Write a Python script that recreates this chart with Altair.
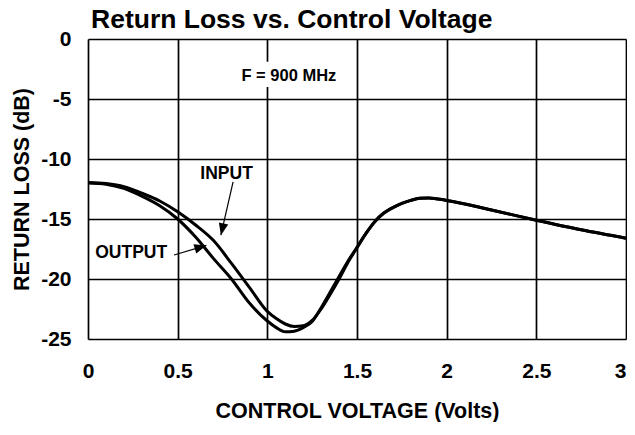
import math
import altair as alt
import pandas as pd

# ---- data ----
volts_output = [0.0, 0.1, 0.2, 0.3, 0.4, 0.5, 0.6, 0.7, 0.8, 0.9, 1.0, 1.05, 1.1, 1.15, 1.2, 1.25,
                1.3, 1.35, 1.4, 1.45, 1.5, 1.55, 1.6, 1.65, 1.7, 1.75, 1.8, 1.85, 1.9, 2.0,
                2.25, 2.5, 2.75, 3.0]
rl_output = [-12.0, -12.1, -12.45, -13.1, -13.9, -15.0, -16.5, -18.3, -20.0, -22.0, -23.5, -24.05,
             -24.4, -24.35, -24.05, -23.55, -22.4, -21.1, -19.8, -18.5, -17.35, -16.2, -15.2,
             -14.5, -14.05, -13.7, -13.45, -13.28, -13.25, -13.45, -14.25, -15.1, -15.9, -16.6]

volts_input = [0.0, 0.1, 0.2, 0.3, 0.4, 0.5, 0.6, 0.7, 0.8, 0.9, 1.0, 1.05, 1.1, 1.15, 1.2, 1.25,
               1.3, 1.35, 1.4, 1.45, 1.5, 1.55, 1.6, 1.65, 1.7, 1.75, 1.8, 1.85, 1.9, 2.0,
               2.25, 2.5, 2.75, 3.0]
rl_input = [-11.95, -12.05, -12.3, -12.85, -13.5, -14.4, -15.5, -16.8, -18.7, -20.7, -22.7, -23.3,
            -23.75, -23.95, -23.9, -23.45, -22.5, -21.3, -20.0, -18.6, -17.4, -16.2, -15.2,
            -14.5, -14.05, -13.7, -13.45, -13.28, -13.25, -13.45, -14.25, -15.1, -15.9, -16.6]

x_ticks = [0, 0.5, 1, 1.5, 2, 2.5, 3]
y_ticks = [0, -5, -10, -15, -20, -25]

# annotations (data units)
freq_label = {"text": "F = 900 MHz", "x": 1.12, "y": -3.1}
freq_box = {"x": 0.83, "x2": 1.40, "y": -1.9, "y2": -4.0}
curve_labels = pd.DataFrame({
    "text": ["INPUT", "OUTPUT"],
    "x": [0.773, 0.241],
    "y": [-11.25, -17.85],
})
arrows = pd.DataFrame({
    "name": ["INPUT", "OUTPUT"],
    "x": [0.809, 0.48],
    "y": [-11.9, -18.0],
    "x2": [0.741, 0.66],
    "y2": [-16.35, -17.2],
})

W, H = 538, 300
px_per_x = W / 3.0
px_per_y = H / 25.0
arrows["angle"] = [
    (math.degrees(math.atan2((x2 - x) * px_per_x, (y2 - y) * px_per_y)) + 360) % 360
    for x, y, x2, y2 in zip(arrows.x, arrows.y, arrows.x2, arrows.y2)
]

df = pd.concat([
    pd.DataFrame({"v": volts_output, "rl": rl_output, "series": "OUTPUT"}),
    pd.DataFrame({"v": volts_input, "rl": rl_input, "series": "INPUT"}),
])

FONT = "Liberation Sans"

xscale = alt.Scale(domain=[0, 3], nice=False)
yscale = alt.Scale(domain=[-25, 0], nice=False)

xaxis = alt.Axis(values=x_ticks, labelExpr="toString(datum.value)", title="CONTROL VOLTAGE (Volts)",
                 ticks=False, domain=False, grid=True, gridColor="black", gridWidth=1.7, gridOpacity=1,
                 labelFont=FONT, labelFontSize=21, labelFontWeight="bold", labelColor="black",
                 labelPadding=21, labelFlush=False, labelOverlap=False,
                 labelAlign={"condition": {"test": "datum.value == 3", "value": "right"},
                             "value": "center"},
                 titleFont=FONT, titleFontSize=21.5, titleFontWeight="bold", titleColor="black",
                 titlePadding=19)
yaxis = alt.Axis(values=y_ticks, labelExpr="toString(datum.value)", title="RETURN LOSS (dB)",
                 ticks=False, domain=False, grid=True, gridColor="black", gridWidth=1.7, gridOpacity=1,
                 labelFont=FONT, labelFontSize=21, labelFontWeight="bold", labelColor="black",
                 labelPadding=17, labelFlush=False, labelOverlap=False,
                 titleFont=FONT, titleFontSize=21.5, titleFontWeight="bold", titleColor="black",
                 titlePadding=7)

lines = alt.Chart(df).mark_line(color="black", strokeWidth=3, interpolate="monotone").encode(
    x=alt.X("v:Q", scale=xscale, axis=xaxis),
    y=alt.Y("rl:Q", scale=yscale, axis=yaxis),
    detail="series:N",
)

box = alt.Chart(pd.DataFrame([freq_box])).mark_rect(color="white").encode(
    x="x:Q", x2="x2:Q", y="y:Q", y2="y2:Q")

ftext = alt.Chart(pd.DataFrame([freq_label])).mark_text(
    font=FONT, fontSize=16.5, fontWeight="bold", color="black", align="center", baseline="middle"
).encode(x="x:Q", y="y:Q", text="text:N")

ltext = alt.Chart(curve_labels).mark_text(
    font=FONT, fontSize=17.5, fontWeight="bold", color="black", align="center", baseline="middle"
).encode(x="x:Q", y="y:Q", text="text:N")

arrow_lines = alt.Chart(arrows).mark_rule(color="black", strokeWidth=1.2).encode(
    x="x:Q", y="y:Q", x2="x2:Q", y2="y2:Q")

arrow_heads = alt.Chart(arrows).mark_point(
    shape="M0,0L-0.8,2L0.8,2Z", filled=True, color="black", opacity=1, size=144, strokeWidth=0
).encode(x="x2:Q", y="y2:Q", angle=alt.Angle("angle:Q", scale=None))

chart = alt.layer(lines, box, ftext, ltext, arrow_lines, arrow_heads).properties(
    width=W, height=H,
    padding={"left": 80, "top": 31, "right": 1, "bottom": 83},
    autosize=alt.AutoSizeParams(type="none"),
    title=alt.TitleParams("Return Loss vs. Control Voltage", anchor="start", frame="group",
                          font=FONT, fontSize=26.5, fontWeight="bold", color="black",
                          offset=0, dx=3, dy=5),
).configure_view(stroke="black", strokeWidth=2).configure(background="white")

chart.save("out.html", embed_options={"renderer": "svg", "actions": False})
